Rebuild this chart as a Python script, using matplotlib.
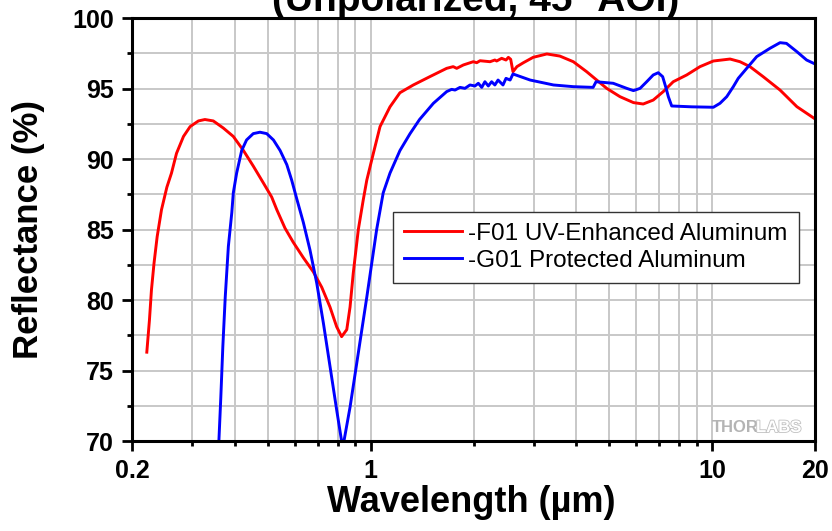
import matplotlib
matplotlib.use("Agg")
import matplotlib.pyplot as plt
import matplotlib.patheffects as pe

plt.rcParams['font.family'] = ['Liberation Sans', 'DejaVu Sans']

# -F01 UV-Enhanced Aluminum
f01_wl = [0.221, 0.225, 0.228, 0.232, 0.237, 0.244, 0.253, 0.261, 0.270, 0.283,
          0.296, 0.313, 0.327, 0.346, 0.370, 0.396, 0.424, 0.453, 0.485, 0.513,
          0.531, 0.561, 0.593, 0.635, 0.679, 0.719, 0.760, 0.795, 0.822, 0.851,
          0.870, 0.889, 0.920, 0.951, 0.974, 1.018, 1.065, 1.139, 1.218, 1.333,
          1.49, 1.669, 1.744, 1.786, 1.868, 1.997, 2.044, 2.09, 2.236, 2.31,
          2.338, 2.418, 2.49, 2.53, 2.57, 2.61, 2.68, 2.80, 2.99, 3.28,
          3.58, 3.92, 4.29, 4.59, 4.91, 5.37, 5.88, 6.28, 6.72, 7.19,
          7.69, 8.42, 9.21, 10.08, 11.28, 12.06, 12.9, 14.1, 15.8, 17.7, 19.9]
f01_r = [76.3, 78.6, 80.7, 82.6, 84.5, 86.4, 88.0, 89.0, 90.4, 91.6,
         92.3, 92.7, 92.8, 92.7, 92.2, 91.6, 90.6, 89.5, 88.3, 87.3,
         86.4, 85.1, 84.1, 83.0, 82.0, 80.9, 79.5, 78.1, 77.4, 77.9,
         79.5, 81.9, 85.0, 87.1, 88.5, 90.4, 92.3, 93.7, 94.7, 95.25,
         95.84, 96.43, 96.55, 96.43, 96.67, 96.9, 96.83, 96.97, 96.9, 97.02,
         96.95, 97.14, 97.02, 97.21, 97.07, 96.19, 96.55, 96.83, 97.21, 97.45,
         97.3, 96.9, 96.19, 95.6, 95.01, 94.42, 94.0, 93.9, 94.18, 94.78,
         95.48, 95.96, 96.55, 96.95, 97.09, 96.9, 96.55, 95.84, 94.89, 93.71, 92.88]

# -G01 Protected Aluminum
g01_wl = [0.359, 0.364, 0.369, 0.375, 0.383, 0.392, 0.396, 0.405, 0.419, 0.433,
          0.453, 0.474, 0.496, 0.519, 0.543, 0.568, 0.587, 0.607, 0.635, 0.664,
          0.695, 0.727, 0.760, 0.795, 0.828, 0.870, 0.910, 0.974, 1.041, 1.088,
          1.139, 1.218, 1.304, 1.39, 1.526, 1.669, 1.726, 1.766, 1.826, 1.888,
          1.953, 2.02, 2.066, 2.114, 2.16, 2.21, 2.26, 2.31, 2.36, 2.44,
          2.49, 2.56, 2.61, 2.93, 3.43, 3.92, 4.48, 4.57, 5.13, 5.62,
          5.88, 6.15, 6.43, 6.72, 6.95, 7.16, 7.33, 7.44, 7.61, 8.71,
          10.08, 10.54, 11.03, 11.53, 11.92, 12.62, 13.5, 14.76, 15.8, 16.5,
          17.7, 18.9, 20.0]
g01_r = [69.8, 73.1, 76.7, 80.2, 83.8, 86.2, 87.6, 89.0, 90.6, 91.35,
         91.8, 91.9, 91.8, 91.35, 90.6, 89.6, 88.5, 87.2, 85.5, 83.55,
         81.2, 78.35, 75.3, 72.2, 69.5, 72.4, 75.5, 80.2, 85.0, 87.6,
         89.0, 90.6, 91.8, 92.8, 93.95, 94.78, 94.94, 94.89, 95.08, 95.01,
         95.25, 95.18, 95.37, 95.08, 95.48, 95.18, 95.48, 95.25, 95.6, 95.25,
         95.72, 95.6, 96.03, 95.6, 95.25, 95.13, 95.08, 95.48, 95.37, 95.01,
         94.85, 95.01, 95.48, 95.96, 96.12, 95.84, 95.01, 94.42, 93.76, 93.7,
         93.67, 93.95, 94.42, 95.13, 95.72, 96.43, 97.26, 97.85, 98.25, 98.2,
         97.61, 97.02, 96.74]

major_x = [0.2, 1, 10, 20]
major_x_labels = ['0.2', '1', '10', '20']
minor_x = [0.3, 0.4, 0.5, 0.6, 0.7, 0.8, 0.9, 2, 3, 4, 5, 6, 7, 8, 9]
major_y = [70, 75, 80, 85, 90, 95, 100]
minor_y = [72.5, 77.5, 82.5, 87.5, 92.5, 97.5]

fig = plt.figure(figsize=(8.32, 5.31), dpi=100)
ax = fig.add_axes([132 / 832, 1 - 441 / 531, (815 - 132) / 832, (441 - 18) / 531])

ax.plot(f01_wl, f01_r, color='#ff0000', lw=2.1, label='-F01 UV-Enhanced Aluminum')
ax.plot(g01_wl, g01_r, color='#0000ff', lw=2.1, label='-G01 Protected Aluminum')

ax.set_xscale('log')
ax.set_xlim(0.2, 20)
ax.set_ylim(70, 100)
ax.set_xticks(major_x)
ax.set_xticklabels(major_x_labels)
ax.set_xticks(minor_x, minor=True)
ax.set_xticklabels([], minor=True)
ax.set_yticks(major_y)
ax.set_yticks(minor_y, minor=True)

ax.grid(True, which='both', color='#c8c8c8', lw=1.4)
ax.set_axisbelow(True)
for s in ax.spines.values():
    s.set_linewidth(2.2)
ax.tick_params(which='major', length=7, width=2, labelsize=18, pad=6)
ax.tick_params(which='minor', length=3.5, width=2)
for lab in ax.get_xticklabels() + ax.get_yticklabels():
    lab.set_fontweight('bold')

leg = ax.legend(loc='upper left', bbox_to_anchor=(393 / 832, 1 - 212 / 531),
                bbox_transform=fig.transFigure, borderaxespad=0, fontsize=17.5,
                fancybox=False, framealpha=1, edgecolor='#333333',
                handlelength=2.4, handletextpad=0.25, labelspacing=0.2,
                borderpad=0.45)
leg.get_frame().set_linewidth(1.0)

# title is partly cut off at the top edge, as in the source image
fig.text(476 / 832, 1 - 11 / 531, '(Unpolarized, 45° AOI)', fontsize=28,
         fontweight='bold', ha='center', va='baseline')
fig.text(471 / 832, 1 - 512 / 531, 'Wavelength (µm)', fontsize=26,
         fontweight='bold', ha='center', va='baseline')
fig.text(29 / 832, 1 - 229 / 531, 'Reflectance (%)', fontsize=25,
         fontweight='bold', ha='center', va='center', rotation=90)

fig.text(712 / 832, 1 - 432 / 531, 'THOR', fontsize=12, fontweight='bold',
         color='#b4b4b4', ha='left', va='baseline')
fig.text(756 / 832, 1 - 432 / 531, 'LABS', fontsize=12, fontweight='bold',
         color='white', ha='left', va='baseline',
         path_effects=[pe.withStroke(linewidth=1.2, foreground='#c0c0c0')])

fig.savefig('out.png', dpi=100)
